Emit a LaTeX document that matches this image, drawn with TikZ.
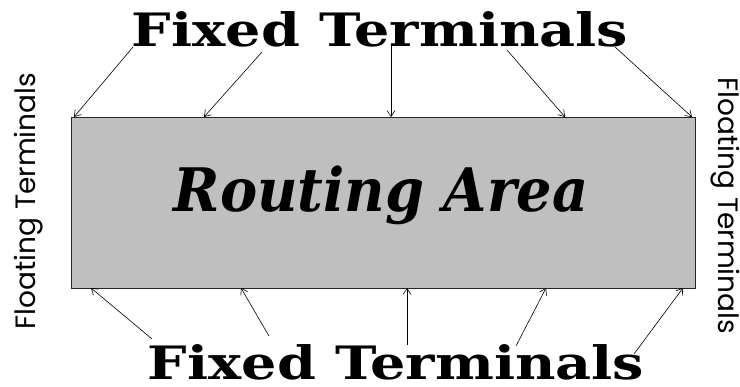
\documentclass[tikz,border=0pt]{standalone}
\usepackage{fontspec}
\newfontfamily\gothicfont{Poppins}
\newfontfamily\heavyfont{DejaVu Serif}
\usetikzlibrary{arrows.meta}

\begin{document}
\begin{tikzpicture}[x=1pt, y=-1pt,
        fixed/.style={font=\heavyfont\bfseries\fontsize{46}{46}\selectfont,
            xscale=1.21, inner sep=0pt, anchor=base},
        floating/.style={font=\gothicfont\fontsize{28}{28}\selectfont,
            inner sep=0pt, anchor=base},
        pin/.style={-{Straight Barb[length=6pt, width=8pt]}, line width=0.6pt}]
            \useasboundingbox (0,0) rectangle (740,387);
            \def\top{117}
            \def\bot{288}

            \node[draw=black!85, fill=black!25, line width=0.8pt, inner sep=0pt,
                minimum width=624pt, minimum height=171pt] (area) at (383,202.5) {};
            \node[font=\heavyfont\bfseries\itshape\fontsize{60}{60}\selectfont,
                xscale=0.93, inner sep=0pt, anchor=base] (routing) at (381,212) {Routing Area};

            \node[fixed] (fixedtop) at (380,47) {Fixed Terminals};
            \node[fixed] (fixedbot) at (396,380) {Fixed Terminals};

            \node[floating, rotate=90] (floatleft) at (35,201) {Floating Terminals};
            \node[floating, rotate=-90] (floatright) at (718,206) {Floating Terminals};

            % pins from the top label down to the upper edge
            \foreach \i/\tx/\ty/\hx in {1/133/47/74, 2/262/52/204, 3/391/45/391, 4/507/50/565, 5/615/47/692} {
                    \coordinate (tt\i) at (\tx,\ty);
                    \coordinate (th\i) at (\hx,\top);
                    \draw[pin] (tt\i) -- (th\i);
                }

            % pins from the bottom label up to the lower edge
            \foreach \i/\tx/\ty/\hx in {1/152/339/91, 2/269/336/241, 3/407/345/407, 4/516/346/546, 5/634/354/683} {
                    \coordinate (bt\i) at (\tx,\ty);
                    \coordinate (bh\i) at (\hx,\bot);
                    \draw[pin] (bt\i) -- (bh\i);
                }

        \end{tikzpicture}
\end{document}
